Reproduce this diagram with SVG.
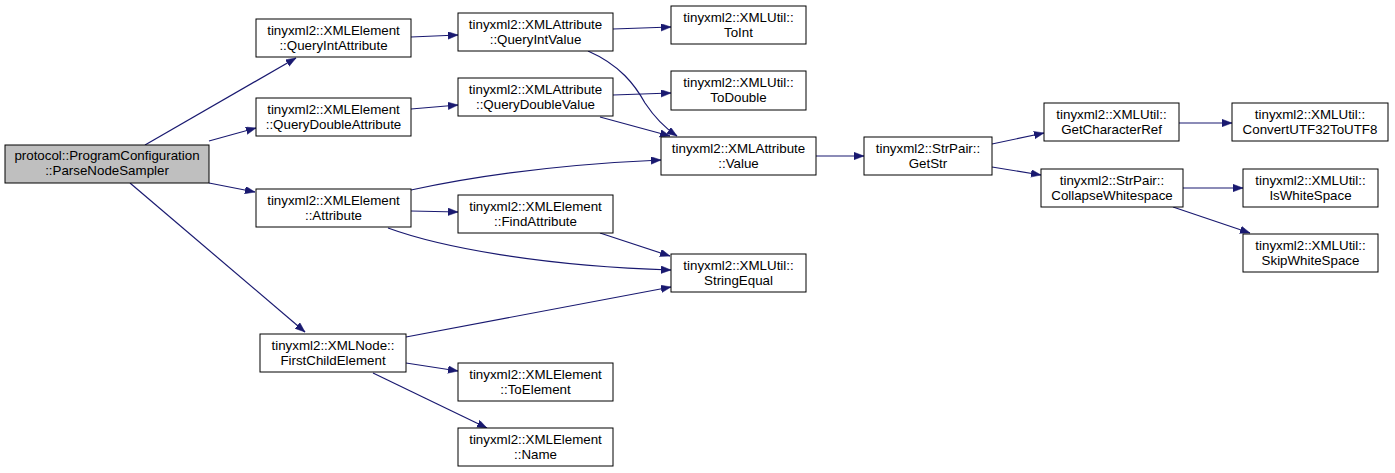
<svg xmlns="http://www.w3.org/2000/svg" width="1395" height="473" viewBox="0 0 1395 473">
<style>
.n rect{fill:#ffffff;stroke:#000000;stroke-width:1}
.n.main rect{fill:#bfbfbf}
.n text{font-family:"Liberation Sans",Arial,sans-serif;font-size:13.33px;text-anchor:middle;fill:#000000}
.e path{fill:none;stroke:#191970;stroke-width:1.2;marker-end:url(#ah)}
</style>
<defs>
<marker id="ah" markerUnits="userSpaceOnUse" markerWidth="11" markerHeight="8" refX="10" refY="3.75" orient="auto">
<path d="M0,0 L10,3.75 L0,7.5 z" fill="#191970" stroke="#191970" stroke-width="0.5"/>
</marker>
</defs>
<rect width="1395" height="473" fill="#ffffff"/>
<g id="connectors" class="e">
<path d="M145,145 L296,58"/>
<path d="M209,141 L256,128"/>
<path d="M209,183 L255,192"/>
<path d="M130,183 L305,332"/>
<path d="M411,37 L458,35"/>
<path d="M411,109 L458,105"/>
<path d="M411,211 L458,212"/>
<path d="M411,190 C480,175 570,164 661,160"/>
<path d="M388,228 C440,247 540,266 671,270"/>
<path d="M600,233 L670,256"/>
<path d="M406,337 L671,287"/>
<path d="M406,363 L458,371"/>
<path d="M373,373 L487,428"/>
<path d="M613,29 L671,27"/>
<path d="M588,51 C620,65 635,85 645,103 C655,118 665,128 677,136"/>
<path d="M613,95 L671,93"/>
<path d="M600,117 L670,136"/>
<path d="M816,156 L864,156"/>
<path d="M992,144 L1044,133"/>
<path d="M992,167 L1041,175"/>
<path d="M1179,123 L1232,123"/>
<path d="M1183,188 L1243,188"/>
<path d="M1173,207 L1250,233"/>
</g>
<g id="node-main" class="n main"><rect x="5" y="145" width="204" height="38"/><text x="107" y="160">protocol::ProgramConfiguration</text><text x="107" y="175">::ParseNodeSampler</text></g>
<g id="node-queryintattribute" class="n"><rect x="256" y="19" width="155" height="38"/><text x="333.5" y="34.5">tinyxml2::XMLElement</text><text x="333.5" y="49.5">::QueryIntAttribute</text></g>
<g id="node-querydoubleattribute" class="n"><rect x="256" y="98" width="155" height="38"/><text x="333.5" y="113.5">tinyxml2::XMLElement</text><text x="333.5" y="128.5">::QueryDoubleAttribute</text></g>
<g id="node-attribute" class="n"><rect x="256" y="189" width="155" height="38"/><text x="333.5" y="204.5">tinyxml2::XMLElement</text><text x="333.5" y="219.5">::Attribute</text></g>
<g id="node-firstchildelement" class="n"><rect x="260" y="334" width="146" height="38"/><text x="333" y="349.5">tinyxml2::XMLNode::</text><text x="333" y="364.5">FirstChildElement</text></g>
<g id="node-queryintvalue" class="n"><rect x="458" y="13" width="155" height="38"/><text x="535.5" y="28.5">tinyxml2::XMLAttribute</text><text x="535.5" y="43.5">::QueryIntValue</text></g>
<g id="node-querydoublevalue" class="n"><rect x="458" y="78" width="155" height="38"/><text x="535.5" y="93.5">tinyxml2::XMLAttribute</text><text x="535.5" y="108.5">::QueryDoubleValue</text></g>
<g id="node-findattribute" class="n"><rect x="458" y="195" width="155" height="38"/><text x="535.5" y="210.5">tinyxml2::XMLElement</text><text x="535.5" y="225.5">::FindAttribute</text></g>
<g id="node-toelement" class="n"><rect x="458" y="363" width="155" height="38"/><text x="535.5" y="378.5">tinyxml2::XMLElement</text><text x="535.5" y="393.5">::ToElement</text></g>
<g id="node-name" class="n"><rect x="458" y="428" width="155" height="38"/><text x="535.5" y="443.5">tinyxml2::XMLElement</text><text x="535.5" y="458.5">::Name</text></g>
<g id="node-toint" class="n"><rect x="671" y="6" width="135" height="38"/><text x="738.5" y="21.5">tinyxml2::XMLUtil::</text><text x="738.5" y="36.5">ToInt</text></g>
<g id="node-todouble" class="n"><rect x="671" y="71" width="135" height="39"/><text x="738.5" y="86.5">tinyxml2::XMLUtil::</text><text x="738.5" y="101.5">ToDouble</text></g>
<g id="node-value" class="n"><rect x="661" y="137" width="155" height="38"/><text x="738.5" y="152.5">tinyxml2::XMLAttribute</text><text x="738.5" y="167.5">::Value</text></g>
<g id="node-stringequal" class="n"><rect x="671" y="254" width="135" height="38"/><text x="738.5" y="269.5">tinyxml2::XMLUtil::</text><text x="738.5" y="284.5">StringEqual</text></g>
<g id="node-getstr" class="n"><rect x="864" y="137" width="128" height="38"/><text x="928" y="152.5">tinyxml2::StrPair::</text><text x="928" y="167.5">GetStr</text></g>
<g id="node-getcharacterref" class="n"><rect x="1044" y="103" width="135" height="38"/><text x="1111.5" y="118.5">tinyxml2::XMLUtil::</text><text x="1111.5" y="133.5">GetCharacterRef</text></g>
<g id="node-collapsewhitespace" class="n"><rect x="1041" y="169" width="142" height="38"/><text x="1112" y="184.5">tinyxml2::StrPair::</text><text x="1112" y="199.5">CollapseWhitespace</text></g>
<g id="node-convertutf32toutf8" class="n"><rect x="1232" y="103" width="156" height="38"/><text x="1310" y="118.5">tinyxml2::XMLUtil::</text><text x="1310" y="133.5">ConvertUTF32ToUTF8</text></g>
<g id="node-iswhitespace" class="n"><rect x="1243" y="169" width="135" height="38"/><text x="1310.5" y="184.5">tinyxml2::XMLUtil::</text><text x="1310.5" y="199.5">IsWhiteSpace</text></g>
<g id="node-skipwhitespace" class="n"><rect x="1243" y="234" width="135" height="38"/><text x="1310.5" y="249.5">tinyxml2::XMLUtil::</text><text x="1310.5" y="264.5">SkipWhiteSpace</text></g>
</svg>
